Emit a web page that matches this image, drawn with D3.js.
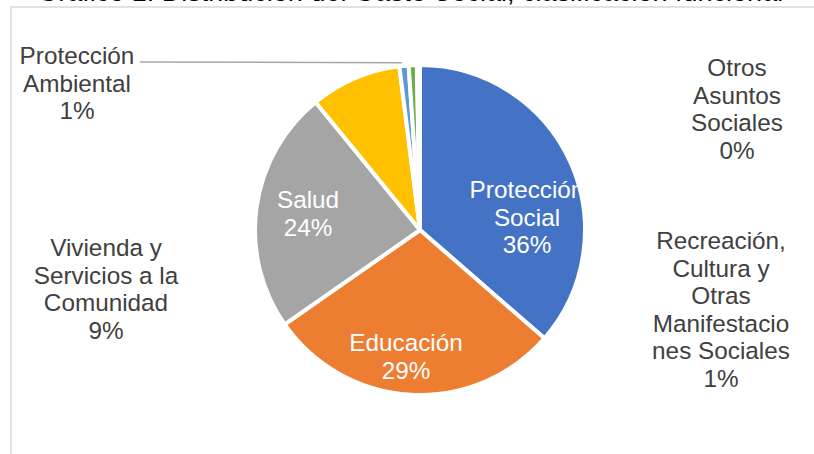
<!DOCTYPE html>
<html>
<head>
<meta charset="utf-8">
<script src="https://cdn.jsdelivr.net/npm/d3@7"></script>
<style>
  html, body { margin: 0; padding: 0; background: #fff; }
  svg { display: block; }
</style>
</head>
<body>
<svg id="chart" width="814" height="454"></svg>
<script>
// Gasto social por clasificación funcional (participación %)
const categories = [
  "Protección Social",
  "Educación",
  "Salud",
  "Vivienda y Servicios a la Comunidad",
  "Protección Ambiental",
  "Recreación, Cultura y Otras Manifestaciones Sociales",
  "Otros Asuntos Sociales"
];
const shares = [36.4, 28.9, 23.8, 8.9, 0.9, 0.8, 0.3];
const sliceColors = ["#4472C4", "#ED7D31", "#A5A5A5", "#FFC000", "#5B9BD5", "#70AD47", "#264478"];
// Wrapped label lines (the percentage is appended from the value)
const labelLines = [
  ["Protección", "Social"],
  ["Educación"],
  ["Salud"],
  ["Vivienda y", "Servicios a la", "Comunidad"],
  ["Protección", "Ambiental"],
  ["Recreación,", "Cultura y", "Otras", "Manifestacio", "nes Sociales"],
  ["Otros", "Asuntos", "Sociales"]
];
const titleText = ["Gráfico 1. Distribución del Gasto Social", ", clasificación funcional"];

const svg = d3.select("#chart");
const W = 814, H = 454;
const cx = 420, cy = 230, R = 165;
const fontFamily = "'Liberation Sans', Arial, sans-serif";
const fontSize = 24.3;
const lineH = 27.5;

// Title line, running off the top of the page
svg.append("text").attr("x", 507).attr("y", 1).attr("text-anchor", "end")
  .attr("font-family", fontFamily).attr("font-size", 27).attr("fill", "#000")
  .text(titleText[0]);
svg.append("text").attr("x", 507).attr("y", 1).attr("text-anchor", "start")
  .attr("font-family", fontFamily).attr("font-size", 27).attr("fill", "#000")
  .text(titleText[1]);

// Chart area frame
svg.append("rect").attr("x", 11).attr("y", 7).attr("width", W).attr("height", H)
  .attr("fill", "#fff").attr("stroke", "#D9D9D9").attr("stroke-width", 1.5);

const data = categories.map((c, i) => ({ name: c, value: shares[i], color: sliceColors[i], lines: labelLines[i] }));
const total = d3.sum(shares);
const pct = v => d3.format(".0f")(v / total * 100) + "%";

const pie = d3.pie().value(d => d.value).sort(null).startAngle(0).endAngle(2 * Math.PI);
const arcs = pie(data);
const arc = d3.arc().innerRadius(0).outerRadius(R);

const g = svg.append("g").attr("transform", `translate(${cx},${cy})`);

// Leader line for the small environmental slice
const amb = arcs[4];
const ambMid = (amb.startAngle + amb.endAngle) / 2;
const leaderEnd = [Math.sin(ambMid) * (R + 1), -Math.cos(ambMid) * (R + 1)];
g.append("path")
  .attr("d", d3.line()([[140 - cx, 62 - cy], [leaderEnd[0] - 2, leaderEnd[1] - 2]]))
  .attr("stroke", "#A6A6A6").attr("stroke-width", 1.5).attr("fill", "none");

g.selectAll("path.slice").data(arcs).join("path")
  .attr("class", "slice")
  .attr("d", arc)
  .attr("fill", d => d.data.color)
  .attr("stroke", "#fff").attr("stroke-width", 4).attr("stroke-linejoin", "round");

// Label block placement: [center x, first baseline y, fill]
const labelPlace = {
  "Protección Social": [527, 198, "#fff"],
  "Educación": [406, 351, "#fff"],
  "Salud": [308, 208, "#fff"],
  "Vivienda y Servicios a la Comunidad": [106, 256, "#404040"],
  "Protección Ambiental": [77, 64, "#404040"],
  "Recreación, Cultura y Otras Manifestaciones Sociales": [721, 249, "#404040"],
  "Otros Asuntos Sociales": [737, 76, "#404040"]
};

arcs.forEach(a => {
  const [x, y, fill] = labelPlace[a.data.name];
  const lines = a.data.lines.concat([pct(a.data.value)]);
  const t = svg.append("text")
    .attr("font-family", fontFamily).attr("font-size", fontSize)
    .attr("fill", fill).attr("text-anchor", "middle");
  lines.forEach((l, i) => {
    t.append("tspan").attr("x", x).attr("y", y + i * lineH).text(l);
  });
});
</script>
</body>
</html>
